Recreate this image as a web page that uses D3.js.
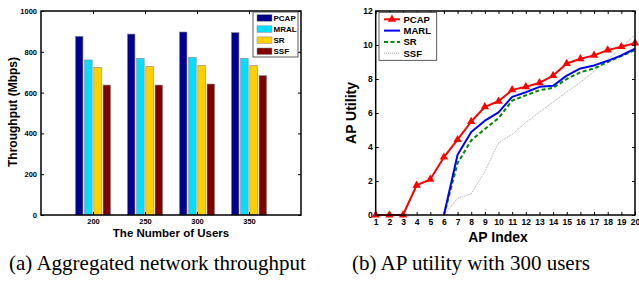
<!DOCTYPE html>
<html><head><meta charset="utf-8">
<script src="https://cdn.jsdelivr.net/npm/d3@7"></script>
<style>body{margin:0;background:#fff}svg{display:block}</style>
</head><body>
<svg id="c" width="639" height="282"></svg>
<script>
// ---- Data: chart (a)
const userCounts = ["200","250","300","350"];
const barSeries = ["PCAP","MRAL","SR","SSF"];
const barColors = ["#00008f","#00dfff","#ffcf00","#800000"];
const pcapThroughput = [876, 887, 897, 894];
const mralThroughput = [760, 768, 773, 768];
const srThroughput   = [724, 729, 734, 732];
const ssfThroughput  = [637, 637, 642, 683];
const throughputTicks = [0,200,400,600,800,1000];

// ---- Data: chart (b)
const apIndex = d3.range(1,21);
const pcapUtility = [0,0,0,1.75,2.1,3.4,4.43,5.5,6.36,6.69,7.36,7.54,7.77,8.2,8.91,9.19,9.39,9.7,9.9,10.11];
const marlUtility = [null,null,null,null,null,0,3.54,4.88,5.55,6.04,6.95,7.22,7.54,7.6,8.2,8.62,8.8,9.07,9.39,9.78];
const srUtility   = [null,null,null,null,null,0,3.05,4.39,5.06,5.7,6.73,7.04,7.34,7.48,8.0,8.4,8.62,9.0,9.35,9.7];
const ssfUtility  = [null,null,null,null,null,0,0.98,1.24,2.56,4.25,4.75,5.45,6.05,6.65,7.25,7.8,8.45,9.15,9.85,10.6];
const utilityTicks = [0,2,4,6,8,10,12];
const lineSeries = ["PCAP","MARL","SR","SSF"];

const svg = d3.select("#c");
const bold = "Liberation Sans, Arial, sans-serif";

function frame(g, x0, x1, y0, y1){
  g.append("rect").attr("x",x0).attr("y",y0).attr("width",x1-x0).attr("height",y1-y0)
   .attr("fill","none").attr("stroke","#000").attr("stroke-width",1.5);
}

// ================= Chart (a)
{
  const L=41, R=301, T=11, B=215;
  const g = svg.append("g");
  const x = d3.scaleLinear().domain([0,5]).range([L,R]);
  const y = d3.scaleLinear().domain([0,1000]).range([B,T]);
  const vals = [pcapThroughput, mralThroughput, srThroughput, ssfThroughput];
  const step = 0.177, bw = 0.145;
  barSeries.forEach((s,si)=>{
    g.selectAll(null).data(vals[si]).enter().append("rect")
      .attr("x",(d,i)=>x(i+1+(si-1.5)*step-bw/2))
      .attr("width",x(bw)-x(0))
      .attr("y",d=>y(d)).attr("height",d=>y(0)-y(d))
      .attr("fill",barColors[si]).attr("stroke","#888").attr("stroke-width",0.6);
  });
  const ax = g.append("g").attr("transform",`translate(0,${B})`)
    .call(d3.axisBottom(x).tickValues([1,2,3,4]).tickFormat((d,i)=>userCounts[i]).tickSizeInner(-3).tickSizeOuter(0).tickPadding(3.5));
  const axT = g.append("g").attr("transform",`translate(0,${T})`)
    .call(d3.axisTop(x).tickValues([1,2,3,4]).tickFormat("").tickSizeInner(-3).tickSizeOuter(0));
  const ay = g.append("g").attr("transform",`translate(${L},0)`)
    .call(d3.axisLeft(y).tickValues(throughputTicks).tickFormat(d3.format("d")).tickSizeInner(-3).tickSizeOuter(0).tickPadding(4));
  const ayR = g.append("g").attr("transform",`translate(${R},0)`)
    .call(d3.axisRight(y).tickValues(throughputTicks).tickFormat("").tickSizeInner(-3).tickSizeOuter(0));
  [ax,axT,ay,ayR].forEach(a=>{a.select(".domain").remove();a.selectAll("line").attr("stroke","#000").attr("stroke-width",1);
    a.selectAll("text").attr("font-family",bold).attr("font-weight","bold").attr("font-size",7.5).attr("fill","#000");});
  frame(g,L,R,T,B);
  g.append("text").attr("x",171).attr("y",237).attr("text-anchor","middle")
    .attr("font-family",bold).attr("font-weight","bold").attr("font-size",11.5).text("The Number of Users");
  g.append("text").attr("transform","translate(17,112) rotate(-90)").attr("text-anchor","middle")
    .attr("font-family",bold).attr("font-weight","bold").attr("font-size",12).text("Throughput (Mbps)");
  const lg = g.append("g");
  lg.append("rect").attr("x",253).attr("y",12).attr("width",45).attr("height",45).attr("fill","#fff").attr("stroke","#333").attr("stroke-width",0.8);
  barSeries.forEach((s,i)=>{
    const yy = 17.7 + i*11.1;
    lg.append("rect").attr("x",257).attr("y",yy-3).attr("width",15).attr("height",6.5).attr("fill",barColors[i]).attr("stroke","#888").attr("stroke-width",0.5);
    lg.append("text").attr("x",273.5).attr("y",yy+3).attr("font-family",bold).attr("font-weight","bold").attr("font-size",8).text(s);
  });
}

// ================= Chart (b)
{
  const L=375.7, R=635, T=11, B=215;
  const g = svg.append("g");
  const x = d3.scaleLinear().domain([1,20]).range([L,R]);
  const y = d3.scaleLinear().domain([0,12]).range([B,T]);
  const ax = g.append("g").attr("transform",`translate(0,${B})`)
    .call(d3.axisBottom(x).tickValues(apIndex).tickSizeInner(-3).tickSizeOuter(0).tickPadding(4));
  const axT = g.append("g").attr("transform",`translate(0,${T})`)
    .call(d3.axisTop(x).tickValues(apIndex).tickFormat("").tickSizeInner(-3).tickSizeOuter(0));
  const ay = g.append("g").attr("transform",`translate(${L},0)`)
    .call(d3.axisLeft(y).tickValues(utilityTicks).tickSizeInner(-3).tickSizeOuter(0).tickPadding(3));
  const ayR = g.append("g").attr("transform",`translate(${R},0)`)
    .call(d3.axisRight(y).tickValues(utilityTicks).tickFormat("").tickSizeInner(-3).tickSizeOuter(0));
  [ax,axT,ay,ayR].forEach(a=>{a.select(".domain").remove();a.selectAll("line").attr("stroke","#000").attr("stroke-width",1);
    a.selectAll("text").attr("font-family",bold).attr("font-weight","bold").attr("font-size",8.5).attr("fill","#000");});

  const styles = [
    {data:pcapUtility,color:"#ff0000",w:2,dash:null},
    {data:marlUtility,color:"#0000ff",w:2,dash:null},
    {data:srUtility,color:"#008800",w:2,dash:"4,2.5"},
    {data:ssfUtility,color:"#999",w:0.9,dash:"1,1"}
  ];
  const line = d3.line().defined(d=>d[1]!==null).x(d=>x(d[0])).y(d=>y(d[1]));
  styles.slice().reverse().forEach(s=>{
    g.append("path").datum(apIndex.map((a,i)=>[a,s.data[i]])).attr("d",line)
      .attr("fill","none").attr("stroke",s.color).attr("stroke-width",s.w)
      .attr("stroke-dasharray",s.dash).attr("stroke-linejoin","round");
  });
  const tri = d3.symbol().type(d3.symbolTriangle).size(30);
  g.selectAll(null).data(apIndex.map((a,i)=>[a,pcapUtility[i]])).enter().append("path")
    .attr("d",tri).attr("transform",d=>`translate(${x(d[0])},${y(d[1])})`).attr("fill","#ff0000");
  frame(g,L,R,T,B);
  g.append("text").attr("x",498).attr("y",242).attr("text-anchor","middle")
    .attr("font-family",bold).attr("font-weight","bold").attr("font-size",14).text("AP Index");
  g.append("text").attr("transform","translate(356,113) rotate(-90)").attr("text-anchor","middle")
    .attr("font-family",bold).attr("font-weight","bold").attr("font-size",14).text("AP Utility");
  const lg = g.append("g");
  lg.append("rect").attr("x",379).attr("y",12.3).attr("width",57.7).attr("height",48).attr("fill","#fff").attr("stroke","#333").attr("stroke-width",0.8);
  lineSeries.forEach((s,i)=>{
    const yy = 19.3 + i*11.3, st = styles[i];
    lg.append("line").attr("x1",384).attr("x2",400).attr("y1",yy).attr("y2",yy)
      .attr("stroke",st.color).attr("stroke-width",st.w).attr("stroke-dasharray",st.dash);
    if(i===0) lg.append("path").attr("d",tri).attr("transform",`translate(392,${yy})`).attr("fill","#ff0000");
    lg.append("text").attr("x",403.5).attr("y",yy+3.5).attr("font-family",bold).attr("font-weight","bold").attr("font-size",9.5).text(s);
  });
}

// captions
const serif = "Liberation Serif, Times New Roman, serif";
svg.append("text").attr("x",9).attr("y",270).attr("font-family",serif).attr("font-size",21).text("(a) Aggregated network throughput");
svg.append("text").attr("x",352).attr("y",270).attr("font-family",serif).attr("font-size",21).text("(b) AP utility with 300 users");
</script>
</body></html>
